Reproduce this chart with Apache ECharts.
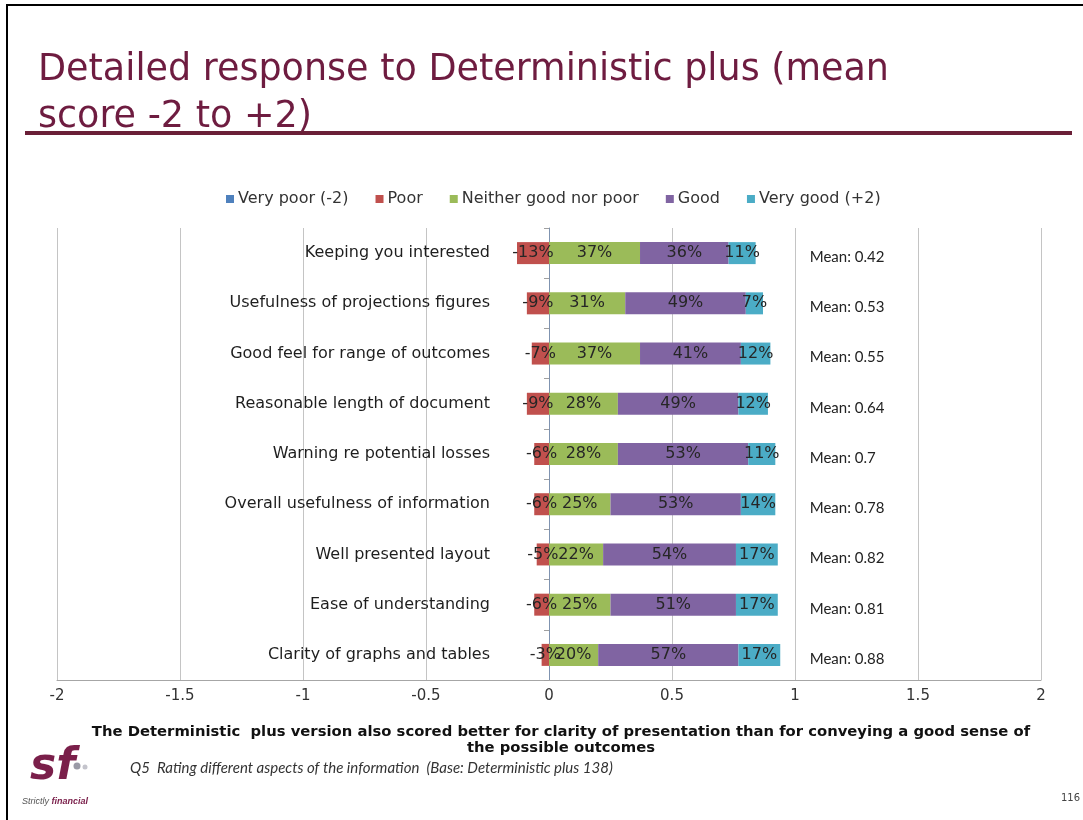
<!DOCTYPE html>
<html>
<head>
<meta charset="utf-8">
<script src="https://cdn.jsdelivr.net/npm/echarts@6/dist/echarts.min.js"></script>
<style>
html,body{margin:0;padding:0;background:#fff;}
#chart{width:1083px;height:820px;}
</style>
</head>
<body>
<div id="chart"></div>
<script>
const categories = [
  "Keeping you interested",
  "Usefulness of projections figures",
  "Good feel for range of outcomes",
  "Reasonable length of document",
  "Warning re potential losses",
  "Overall usefulness of information",
  "Well presented layout",
  "Ease of understanding",
  "Clarity of graphs and tables"
];
const veryPoor = [0, 0, 0, 0, 0, 0, 0, 0, 0];
const poor = [-0.13, -0.09, -0.07, -0.09, -0.06, -0.06, -0.05, -0.06, -0.03];
const neither = [0.37, 0.31, 0.37, 0.28, 0.28, 0.25, 0.22, 0.25, 0.20];
const good = [0.36, 0.49, 0.41, 0.49, 0.53, 0.53, 0.54, 0.51, 0.57];
const veryGood = [0.11, 0.07, 0.12, 0.12, 0.11, 0.14, 0.17, 0.17, 0.17];
const means = [0.42, 0.53, 0.55, 0.64, 0.7, 0.78, 0.82, 0.81, 0.88];
const seriesNames = ["Very poor (-2)", "Poor", "Neither good nor poor", "Good", "Very good (+2)"];
const xTicks = { min: -2, max: 2, interval: 0.5 };

const colors = ["#4F81BD", "#C0504D", "#9BBB59", "#8064A2", "#4BACC6"];
const MEAN_COL_X = 1.06;
const FONT = "DejaVu Sans";

const chart = echarts.init(document.getElementById('chart'));

function barSeries(name, data, color) {
  return {
    name: name,
    type: 'bar',
    stack: 'all',
    barWidth: 22,
    data: data,
    itemStyle: { color: color },
    label: {
      show: true,
      position: 'inside',
      fontFamily: FONT,
      fontSize: 16,
      color: '#262626',
      formatter: p => p.value === 0 ? '' : Math.round(p.value * 100) + '%'
    },
    emphasis: { disabled: true }
  };
}

const option = {
  animation: false,
  color: colors,
  textStyle: { fontFamily: FONT },
  legend: {
    data: seriesNames,
    left: 221,
    top: 186,
    itemWidth: 8,
    itemHeight: 8,
    itemGap: 27,
    icon: 'rect',
    textStyle: { fontFamily: FONT, fontSize: 16, color: '#333', padding: [0, 0, 0, -1] }
  },
  grid: { left: 57, right: 42, top: 228, bottom: 140, containLabel: false, outerBoundsMode: 'none' },
  xAxis: {
    type: 'value',
    min: xTicks.min,
    max: xTicks.max,
    interval: xTicks.interval,
    axisLine: { show: true, lineStyle: { color: '#a6a6a6' } },
    axisTick: { show: false },
    axisLabel: { fontFamily: FONT, fontSize: 15, color: '#333', margin: 9 },
    splitLine: { show: true, lineStyle: { color: '#c4c4c4' } }
  },
  yAxis: {
    type: 'category',
    data: categories,
    inverse: true,
    axisLine: { show: true, onZero: true, lineStyle: { color: '#7f93b0' } },
    axisTick: { show: true, length: 5, lineStyle: { color: '#a0a0a0' } },
    axisLabel: { show: false },
    splitLine: { show: false }
  },
  series: [
    barSeries(seriesNames[0], veryPoor, colors[0]),
    barSeries(seriesNames[1], poor, colors[1]),
    barSeries(seriesNames[2], neither, colors[2]),
    barSeries(seriesNames[3], good, colors[3]),
    barSeries(seriesNames[4], veryGood, colors[4]),
    {
      name: 'Category labels',
      type: 'scatter',
      symbolSize: 0,
      itemStyle: { opacity: 1 },
      data: categories.map(c => [0, c]),
      label: {
        show: true,
        position: 'left',
        distance: 59,
        align: 'right',
        fontFamily: FONT,
        fontSize: 16,
        color: '#1e1e1e',
        opacity: 1,
        formatter: p => p.value[1]
      },
      emphasis: { disabled: true },
      silent: true,
      z: 1
    },
    {
      name: 'Mean',
      type: 'scatter',
      symbolSize: 0,
      itemStyle: { opacity: 1 },
      data: means.map((m, i) => [MEAN_COL_X, categories[i], m]),
      label: {
        show: true,
        position: 'right',
        distance: 0,
        offset: [0, 4],
        fontFamily: 'Lato',
        fontSize: 15,
        color: '#222',
        opacity: 1,
        formatter: p => 'Mean: ' + p.value[2]
      },
      emphasis: { disabled: true },
      silent: true
    }
  ],
  graphic: [
    { type: 'rect', shape: { x: 7, y: 4, width: 1083, height: 2 }, style: { fill: '#000' } },
    { type: 'rect', shape: { x: 6, y: 4, width: 2, height: 820 }, style: { fill: '#000' } },
    {
      type: 'text', left: 38, top: 47,
      style: {
        text: 'Detailed response to Deterministic plus (mean\nscore -2 to +2)',
        fontFamily: FONT, fontSize: 36.5, lineHeight: 47, fill: '#6e1c40'
      }
    },
    { type: 'rect', shape: { x: 25, y: 131, width: 1047, height: 4 }, style: { fill: '#6a1f37' } },
    {
      type: 'text', x: 561, y: 724,
      style: {
        text: 'The Deterministic  plus version also scored better for clarity of presentation than for conveying a good sense of\nthe possible outcomes',
        fontFamily: FONT, fontSize: 14.8, fontWeight: 'bold', lineHeight: 16, fill: '#111', align: 'center'
      }
    },
    {
      type: 'text', x: 130, y: 761,
      style: {
        text: 'Q5  Rating different aspects of the information  (Base: Deterministic plus 138)',
        fontFamily: 'Lato', fontSize: 15, fontStyle: 'italic', fill: '#333'
      }
    },
    {
      type: 'text', x: 30, y: 746,
      style: { text: 'sf', fontFamily: FONT, fontSize: 44, fontWeight: 'bold', fontStyle: 'italic', fill: '#7a1f4a' }
    },
    { type: 'circle', shape: { cx: 77, cy: 766, r: 3.5 }, style: { fill: '#9a9aa6' } },
    { type: 'circle', shape: { cx: 85, cy: 767, r: 2.5 }, style: { fill: '#c4c4cc' } },
    {
      type: 'text', x: 22, y: 797,
      style: {
        text: '{a|Strictly }{b|financial}',
        rich: {
          a: { fontFamily: 'Liberation Sans', fontSize: 9, fontStyle: 'italic', fill: '#555' },
          b: { fontFamily: 'Liberation Sans', fontSize: 9, fontStyle: 'italic', fontWeight: 'bold', fill: '#7a1f4a' }
        }
      }
    },
    {
      type: 'text', x: 1061, y: 793,
      style: { text: '116', fontFamily: FONT, fontSize: 10, fill: '#444' }
    }
  ]
};
chart.setOption(option);
</script>
</body>
</html>
